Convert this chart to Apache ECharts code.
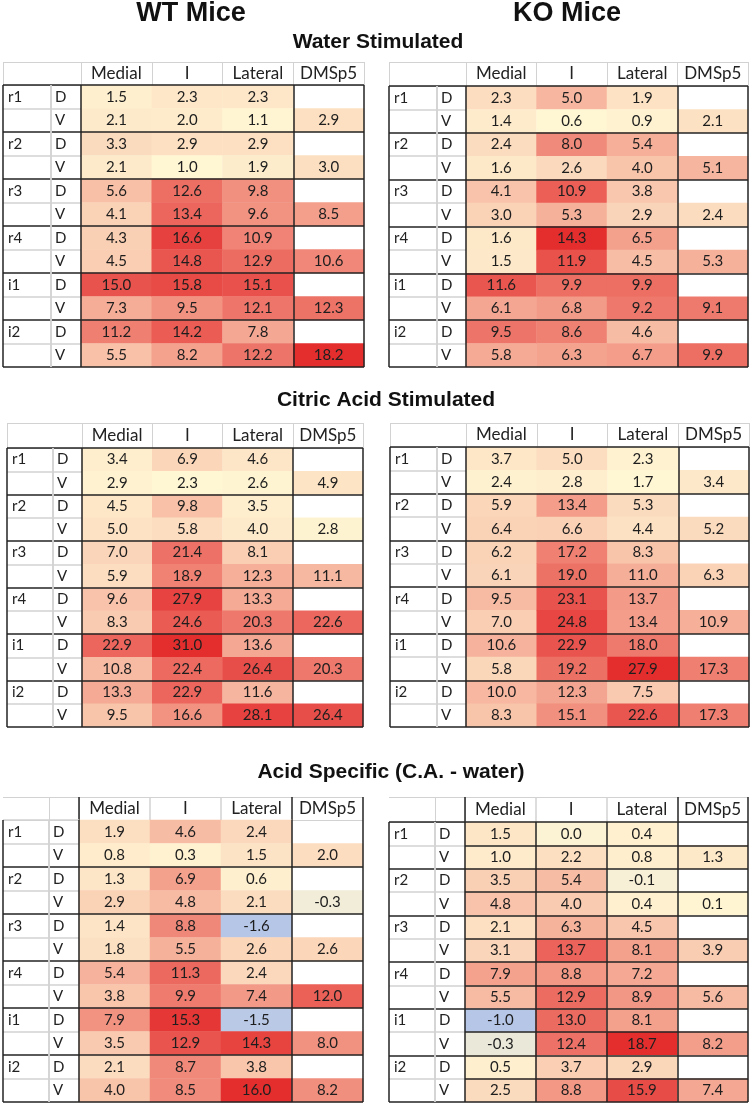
<!DOCTYPE html>
<html>
<head>
<meta charset="utf-8">
<script src="https://cdn.jsdelivr.net/npm/echarts@6/dist/echarts.min.js"></script>
<style>html,body{margin:0;padding:0;background:#fff}#c{width:755px;height:1107px}</style>
</head>
<body>
<div id="c"></div>
<script>
// ---------- DATA ----------
const columns = ['Medial', 'I', 'Lateral', 'DMSp5'];
const regions = ['r1', 'r2', 'r3', 'r4', 'i1', 'i2'];
const sides = ['D', 'V'];

// Water stimulated – WT (rows: r1D, r1V, r2D, r2V, ... i2D, i2V)
const wtWaterMedial  = [1.5, 2.1, 3.3, 2.1, 5.6, 4.1, 4.3, 4.5, 15.0, 7.3, 11.2, 5.5];
const wtWaterI       = [2.3, 2.0, 2.9, 1.0, 12.6, 13.4, 16.6, 14.8, 15.8, 9.5, 14.2, 8.2];
const wtWaterLateral = [2.3, 1.1, 2.9, 1.9, 9.8, 9.6, 10.9, 12.9, 15.1, 12.1, 7.8, 12.2];
const wtWaterDMSp5   = [2.9, 3.0, 8.5, 10.6, 12.3, 18.2]; // V rows only

// Water stimulated – KO
const koWaterMedial  = [2.3, 1.4, 2.4, 1.6, 4.1, 3.0, 1.6, 1.5, 11.6, 6.1, 9.5, 5.8];
const koWaterI       = [5.0, 0.6, 8.0, 2.6, 10.9, 5.3, 14.3, 11.9, 9.9, 6.8, 8.6, 6.3];
const koWaterLateral = [1.9, 0.9, 5.4, 4.0, 3.8, 2.9, 6.5, 4.5, 9.9, 9.2, 4.6, 6.7];
const koWaterDMSp5   = [2.1, 5.1, 2.4, 5.3, 9.1, 9.9];

// Citric acid stimulated – WT
const wtCitricMedial  = [3.4, 2.9, 4.5, 5.0, 7.0, 5.9, 9.6, 8.3, 22.9, 10.8, 13.3, 9.5];
const wtCitricI       = [6.9, 2.3, 9.8, 5.8, 21.4, 18.9, 27.9, 24.6, 31.0, 22.4, 22.9, 16.6];
const wtCitricLateral = [4.6, 2.6, 3.5, 4.0, 8.1, 12.3, 13.3, 20.3, 13.6, 26.4, 11.6, 28.1];
const wtCitricDMSp5   = [4.9, 2.8, 11.1, 22.6, 20.3, 26.4];

// Citric acid stimulated – KO
const koCitricMedial  = [3.7, 2.4, 5.9, 6.4, 6.2, 6.1, 9.5, 7.0, 10.6, 5.8, 10.0, 8.3];
const koCitricI       = [5.0, 2.8, 13.4, 6.6, 17.2, 19.0, 23.1, 24.8, 22.9, 19.2, 12.3, 15.1];
const koCitricLateral = [2.3, 1.7, 5.3, 4.4, 8.3, 11.0, 13.7, 13.4, 18.0, 27.9, 7.5, 22.6];
const koCitricDMSp5   = [3.4, 5.2, 6.3, 10.9, 17.3, 17.3];

// Acid specific (C.A. - water) – WT
const wtAcidMedial  = [1.9, 0.8, 1.3, 2.9, 1.4, 1.8, 5.4, 3.8, 7.9, 3.5, 2.1, 4.0];
const wtAcidI       = [4.6, 0.3, 6.9, 4.8, 8.8, 5.5, 11.3, 9.9, 15.3, 12.9, 8.7, 8.5];
const wtAcidLateral = [2.4, 1.5, 0.6, 2.1, -1.6, 2.6, 2.4, 7.4, -1.5, 14.3, 3.8, 16.0];
const wtAcidDMSp5   = [2.0, -0.3, 2.6, 12.0, 8.0, 8.2];

// Acid specific (C.A. - water) – KO
const koAcidMedial  = [1.5, 1.0, 3.5, 4.8, 2.1, 3.1, 7.9, 5.5, -1.0, -0.3, 0.5, 2.5];
const koAcidI       = [0.0, 2.2, 5.4, 4.0, 6.3, 13.7, 8.8, 12.9, 13.0, 12.4, 3.7, 8.8];
const koAcidLateral = [0.4, 0.8, -0.1, 0.4, 4.5, 8.1, 7.2, 8.9, 8.1, 18.7, 2.9, 15.9];
const koAcidDMSp5   = [1.3, 0.1, 3.9, 5.6, 8.2, 7.4];

// ---------- STYLE / LAYOUT ----------
const FONT = 'Lato, "Open Sans", sans-serif';
const TITLE_FONT = '"Liberation Sans", Arial, Helvetica, sans-serif';
const GREY = '#d2d2d2', DARK = '#232323', NONE = 'rgba(0,0,0,0)';
const CREAM = [255, 246, 212], RED = [228, 46, 46], BLUE = [181, 198, 231];

const tables = [
  { cols: [wtWaterMedial, wtWaterI, wtWaterLateral], dm: wtWaterDMSp5,
    box: { x0: 3, xA: 51, xB: 81, xR: 364, yH: 62, yD: 85, yE: 367 }, acid: false, full: false, hbDark: true },
  { cols: [koWaterMedial, koWaterI, koWaterLateral], dm: koWaterDMSp5,
    box: { x0: 389, xA: 437, xB: 466, xR: 748, yH: 62, yD: 86, yE: 367 }, acid: false, full: false, hbDark: true },
  { cols: [wtCitricMedial, wtCitricI, wtCitricLateral], dm: wtCitricDMSp5,
    box: { x0: 7, xA: 53, xB: 82, xR: 363, yH: 423, yD: 448, yE: 727 }, acid: false, full: false, hbDark: true },
  { cols: [koCitricMedial, koCitricI, koCitricLateral], dm: koCitricDMSp5,
    box: { x0: 390, xA: 437, xB: 466, xR: 749, yH: 423, yD: 447, yE: 727 }, acid: false, full: false, hbDark: true },
  { cols: [wtAcidMedial, wtAcidI, wtAcidLateral], dm: wtAcidDMSp5,
    box: { x0: 3, xA: 49, xB: 79, xR: 363, yH: 797, yD: 820, yE: 1102 }, acid: true, full: false, hbDark: false },
  { cols: [koAcidMedial, koAcidI, koAcidLateral], dm: koAcidDMSp5,
    box: { x0: 389, xA: 435, xB: 465, xR: 748, yH: 797, yD: 822, yE: 1102 }, acid: true, full: true, hbDark: true }
];

const rowKeys = [];
regions.forEach(r => sides.forEach(s => rowKeys.push(r + ' ' + s)));

function scaleStops(min, max) {
  const anchors = min < 0 ? [[min, BLUE], [0, CREAM], [max, RED]] : [[min, CREAM], [max, RED]];
  const n = 90, out = [];
  for (let k = 0; k < n; k++) {
    const v = min + (max - min) * k / (n - 1);
    let j = 0;
    while (j < anchors.length - 2 && v > anchors[j + 1][0]) j++;
    const v0 = anchors[j][0], c0 = anchors[j][1], v1 = anchors[j + 1][0], c1 = anchors[j + 1][1];
    const t = Math.max(0, Math.min(1, (v - v0) / (v1 - v0)));
    out.push('rgb(' + c0.map((c, m) => Math.round(c + (c1[m] - c) * t)).join(',') + ')');
  }
  return out;
}

const grids = [], xAxes = [], yAxes = [], series = [], visualMaps = [];

function baseAxis(data, colors, width, z) {
  return {
    type: 'category', data: data, z: z,
    axisLine: { show: false }, axisTick: { show: false },
    axisLabel: { show: false, interval: 0 },
    splitLine: { show: true, interval: 0, lineStyle: { color: colors, width: width } }
  };
}

function addGrid(left, top, right, bottom, xOpt, yOpt) {
  const gi = grids.length;
  grids.push({ left: left, top: top, width: right - left, height: bottom - top });
  xAxes.push(Object.assign({ gridIndex: gi }, xOpt));
  yAxes.push(Object.assign({ gridIndex: gi }, yOpt));
  return { xi: xAxes.length - 1, yi: yAxes.length - 1 };
}

tables.forEach((tb, ti) => {
  const b = tb.box;
  // header – label part
  if (tb.acid) {
    addGrid(b.x0, b.yH, b.xA, b.yD, baseAxis(['h'], [NONE, GREY], 1, 1), baseAxis(['h'], [GREY, GREY], 1, 1));
    addGrid(b.xA, b.yH, b.xB, b.yD, baseAxis(['h'], [GREY, GREY], 1, 1), baseAxis(['h'], [GREY, GREY], 1, 1));
  } else {
    addGrid(b.x0, b.yH, b.xB, b.yD, baseAxis(['h'], [GREY, GREY], 1, 1), baseAxis(['h'], [GREY, GREY], 1, 1));
  }
  // header – data columns part
  const hdColors = tb.acid ? [DARK, GREY, GREY, DARK, DARK] : [GREY, GREY, GREY, GREY, GREY];
  addGrid(b.x0 === 0 ? 0 : b.xB, b.yH, b.xR, b.yD,
    baseAxis(columns, hdColors, tb.acid ? 1.5 : 1, 1), baseAxis(['h'], [GREY, GREY], 1, 1));

  // horizontal line colours for label columns and data area
  const labRowColors = [], dataRowColors = [];
  for (let k = 0; k <= rowKeys.length; k++) {
    if (k === 0) {
      labRowColors.push(tb.hbDark ? DARK : GREY);
      dataRowColors.push(tb.hbDark ? DARK : NONE);
    } else if (k % 2 === 0) {
      labRowColors.push(DARK); dataRowColors.push(DARK);
    } else {
      labRowColors.push(GREY); dataRowColors.push(tb.full ? DARK : NONE);
    }
  }

  // region label column
  const yA = baseAxis(rowKeys, labRowColors, 1.5, 10);
  yA.inverse = true;
  yA.axisLabel = { show: true, inside: true, margin: 5, interval: 0, fontSize: 15, fontFamily: FONT, color: '#222',
    formatter: (v, idx) => (idx % 2 === 0 ? regions[idx / 2] : '') };
  addGrid(b.x0, b.yD, b.xA, b.yE, baseAxis(['a'], [DARK, GREY], 1.5, 10), yA);

  // D/V column
  const yB = baseAxis(rowKeys, labRowColors, 1.5, 10);
  yB.inverse = true;
  yB.axisLabel = { show: true, inside: true, margin: 4, interval: 0, fontSize: 15, fontFamily: FONT, color: '#222',
    formatter: (v, idx) => sides[idx % 2] };
  addGrid(b.xA, b.yD, b.xB, b.yE, baseAxis(['b'], [GREY, NONE], 1.5, 10), yB);

  // data grid
  const xD = baseAxis(columns, tb.full ? [DARK, DARK, DARK, DARK, DARK] : [DARK, NONE, NONE, DARK, DARK], 1.5, 10);
  xD.position = 'top';
  xD.axisLabel = { show: true, interval: 0, margin: (b.yD - b.yH) / 2, verticalAlign: 'middle',
    fontSize: 17, fontFamily: FONT, color: '#222' };
  const yD = baseAxis(rowKeys, dataRowColors, 1.5, 10);
  yD.inverse = true;
  const ax = addGrid(b.xB, b.yD, b.xR, b.yE, xD, yD);

  const data = [];
  tb.cols.forEach((arr, c) => arr.forEach((v, r) => data.push([c, r, v])));
  tb.dm.forEach((v, g) => data.push([3, g * 2 + 1, v]));
  const vals = data.map(d => d[2]);
  const min = Math.min.apply(null, vals), max = Math.max.apply(null, vals);

  visualMaps.push({ type: 'continuous', show: false, seriesIndex: series.length, dimension: 2,
    min: min, max: max, inRange: { color: scaleStops(min, max) } });
  series.push({
    type: 'heatmap', xAxisIndex: ax.xi, yAxisIndex: ax.yi, data: data, z: 2,
    itemStyle: { borderWidth: 0 },
    label: { show: true, fontSize: 15, fontFamily: FONT, color: '#1e1e1e',
      formatter: p => p.value[2].toFixed(1) },
    emphasis: { disabled: true }
  });
});

const titleStyle = (txt, size) => ({ text: txt, font: 'bold ' + size + 'px ' + TITLE_FONT, fill: '#111',
  align: 'center', verticalAlign: 'middle', textAlign: 'center', textVerticalAlign: 'middle' });

const chart = echarts.init(document.getElementById('c'), null, { renderer: 'canvas' });
chart.setOption({
  backgroundColor: '#ffffff',
  animation: false,
  grid: grids, xAxis: xAxes, yAxis: yAxes,
  visualMap: visualMaps,
  series: series,
  graphic: [
    { type: 'text', x: 191, y: 14, style: titleStyle('WT Mice', 27) },
    { type: 'text', x: 567, y: 14, style: titleStyle('KO Mice', 27) },
    { type: 'text', x: 378, y: 42, style: titleStyle('Water Stimulated', 21) },
    { type: 'text', x: 386, y: 400, style: titleStyle('Citric Acid Stimulated', 21) },
    { type: 'text', x: 391, y: 772, style: titleStyle('Acid Specific (C.A. - water)', 21) }
  ]
});
</script>
</body>
</html>
